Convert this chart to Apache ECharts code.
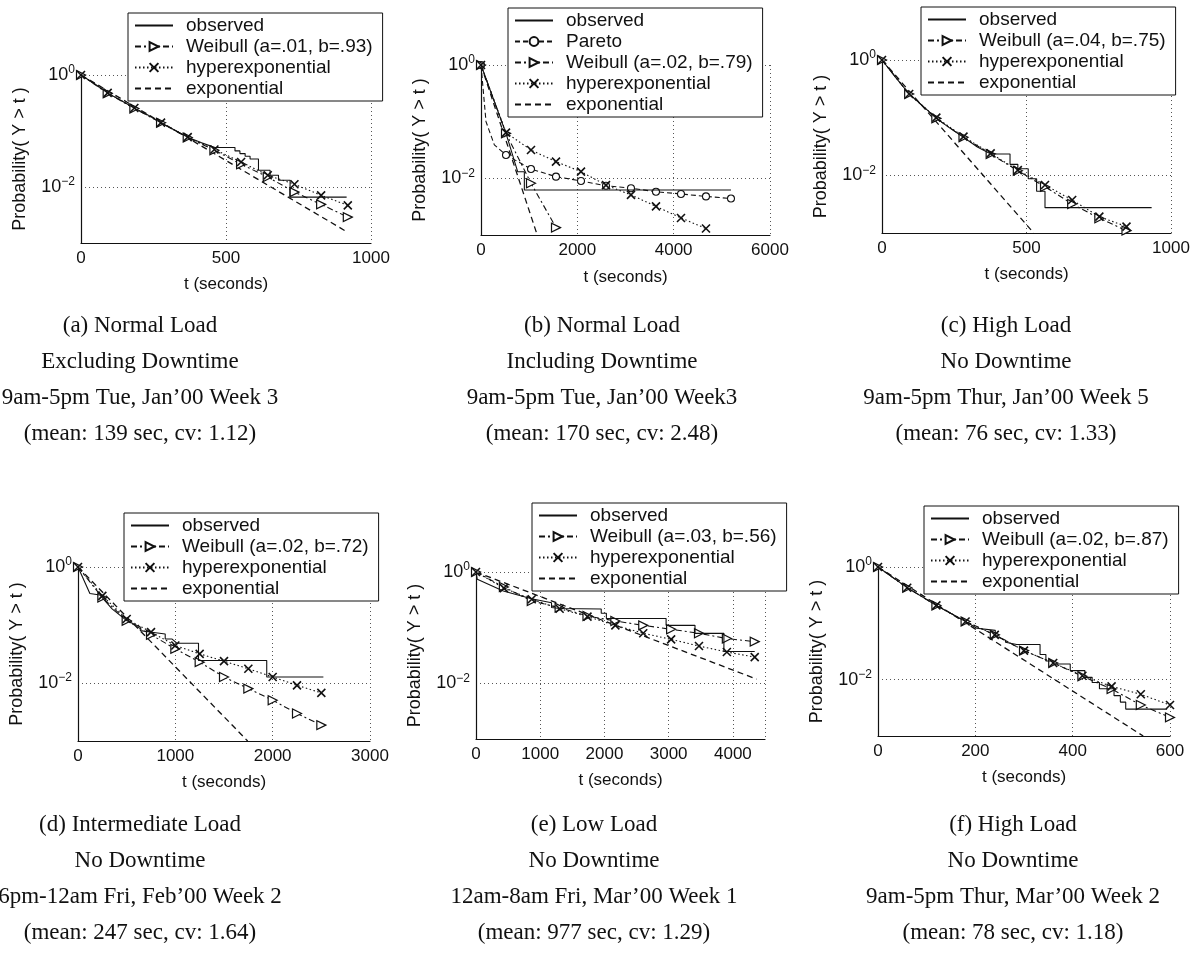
<!DOCTYPE html>
<html><head><meta charset="utf-8">
<script src="https://cdn.jsdelivr.net/npm/echarts@6/dist/echarts.min.js"></script>
<style>html,body{margin:0;padding:0;background:#fff}#c{width:1199px;height:964px}</style>
</head><body><div id="c"></div>
<script>
// ---------- axes / labels ----------
const xMax = [1000, 6000, 1000, 3000, 4500, 600];
const xInterval = [500, 2000, 500, 1000, 1000, 200];
const xTickLabels = [[0,500,1000],[0,2000,4000,6000],[0,500,1000],[0,1000,2000,3000],[0,1000,2000,3000,4000],[0,200,400,600]];
const yMin = 0.001, yMax = 1;
const yTickLabels = [1, 0.01];
const xTitle = 't (seconds)';
const yTitle = 'Probability( Y > t )';
const weibullNames = ['Weibull (a=.01, b=.93)','Weibull (a=.02, b=.79)','Weibull (a=.04, b=.75)','Weibull (a=.02, b=.72)','Weibull (a=.03, b=.56)','Weibull (a=.02, b=.87)'];
const captions = [
  ['(a) Normal Load','Excluding Downtime','9am-5pm Tue, Jan\u201900 Week 3','(mean: 139 sec, cv: 1.12)'],
  ['(b) Normal Load','Including Downtime','9am-5pm Tue, Jan\u201900 Week3','(mean: 170 sec, cv: 2.48)'],
  ['(c) High Load','No Downtime','9am-5pm Thur, Jan\u201900 Week 5','(mean: 76 sec, cv: 1.33)'],
  ['(d) Intermediate Load','No Downtime','6pm-12am Fri, Feb\u201900 Week 2','(mean: 247 sec, cv: 1.64)'],
  ['(e) Low Load','No Downtime','12am-8am Fri, Mar\u201900 Week 1','(mean: 977 sec, cv: 1.29)'],
  ['(f) High Load','No Downtime','9am-5pm Thur, Mar\u201900 Week 2','(mean: 78 sec, cv: 1.18)']
];

// ---------- (a) ----------
const observedA = [[0,1],[48,0.69],[94,0.47],[140,0.347],[186,0.253],[232,0.192],[275,0.14],[324,0.1035],[370,0.0765],[416,0.0614],[462,0.0506],[531,0.0506],[531,0.0441],[548,0.0441],[548,0.0395],[566,0.0395],[566,0.0354],[583,0.0354],[583,0.0317],[612,0.0317],[612,0.0199],[652,0.0199],[652,0.0162],[681,0.0162],[681,0.0132],[721,0.0132],[721,0.0066],[916,0.0066]];
const tMarksA = [0,92,184,276,368,460,552,644,736,828,920];
const weibullA = [1,0.47,0.253,0.14,0.0766,0.0454,0.0255,0.0151,0.0081,0.0049,0.0029];
const hyperA = [1,0.479,0.257,0.141,0.0776,0.0468,0.028,0.0162,0.0112,0.0071,0.0047];
const expA = [[0,1],[920,0.00155]];
// ---------- (b) ----------
const observedB = [[0,1],[519,0.0622],[761,0.0131],[900,0.0131],[900,0.00622],[5190,0.00622]];
const tMarksB = [0,519,1038,1557,2076,2595,3114,3633,4152,4671,5190];
const paretoB = [1,0.0258,0.0146,0.0107,0.009,0.0074,0.0067,0.0058,0.0053,0.0048,0.0044];
const paretoBCurve = [[104,0.1],[277,0.039]];
const weibullB = [1,0.0622,0.0082,0.00135];
const hyperB = [1,0.064,0.0316,0.0197,0.0131,0.0076,0.0051,0.0032,0.002,0.0013];
const expB = [[0,1],[1180,0.00093]];
// ---------- (c) ----------
const observedC = [[0,1],[47,0.5],[94,0.257],[141,0.16],[188,0.0973],[235,0.066],[282,0.0456],[330,0.031],[370,0.0245],[397,0.0234],[443,0.0234],[443,0.0155],[470,0.0155],[470,0.013],[506,0.013],[506,0.0087],[535,0.0087],[535,0.0053],[564,0.0053],[564,0.00275],[933,0.00275]];
const tMarksC = [0,94,188,282,376,470,564,658,752,846];
const weibullC = [1,0.257,0.0973,0.0456,0.0234,0.012,0.00635,0.00318,0.0018,0.0011];
const hyperC = [1,0.257,0.1,0.0468,0.024,0.0123,0.0068,0.00373,0.00192,0.00129];
const expC = [[0,1],[525,0.001]];
// ---------- (d) ----------
const observedD = [[0,1],[122,0.35],[224,0.33],[350,0.19],[503,0.118],[640,0.092],[640,0.08],[759,0.075],[896,0.07],[896,0.0575],[964,0.0575],[1016,0.0485],[1238,0.0485],[1238,0.0245],[1939,0.0245],[1939,0.0127],[2521,0.0127]];
const tMarksD = [0,250,500,750,1000,1250,1500,1750,2000,2250,2500];
const weibullD = [1,0.298,0.1186,0.068,0.0388,0.0229,0.01268,0.008,0.00505,0.00298,0.00188];
const hyperD = [1,0.318,0.1268,0.0755,0.0443,0.0318,0.0238,0.0176,0.01268,0.00912,0.00675];
const expD = [[0,1],[1743,0.001]];
// ---------- (e) ----------
const observedE = [[0,1],[20,0.74],[425,0.456],[865,0.33],[1176,0.281],[1176,0.23],[1305,0.221],[1950,0.216],[1950,0.182],[2030,0.182],[2030,0.146],[2960,0.146],[2960,0.11],[3410,0.11],[3410,0.079],[3860,0.079],[3860,0.0372],[4340,0.0372]];
const tMarksE = [0,434,868,1302,1736,2170,2604,3038,3472,3906,4340];
const weibullE = [1,0.537,0.302,0.229,0.162,0.132,0.11,0.0935,0.0794,0.0637,0.0562];
const hyperE = [1,0.513,0.324,0.219,0.158,0.11,0.0794,0.0617,0.0468,0.0366,0.0295];
const expE = [[0,1],[4370,0.0119]];
// ---------- (f) ----------
const observedF = [[0,1],[60,0.43],[120,0.208],[180,0.108],[203,0.082],[241,0.075],[241,0.06],[262,0.05],[262,0.046],[285,0.042],[333,0.042],[333,0.028],[345,0.028],[345,0.0215],[360,0.0215],[360,0.019],[395,0.019],[395,0.0145],[425,0.0145],[425,0.011],[440,0.011],[440,0.0089],[455,0.0089],[455,0.0069],[485,0.0069],[485,0.0052],[498,0.0052],[498,0.004],[509,0.004],[509,0.003],[594,0.003]];
const tMarksF = [0,60,120,180,240,300,360,420,480,540,600];
const weibullF = [1,0.4285,0.208,0.108,0.0624,0.0328,0.0198,0.01146,0.00682,0.00355,0.00214];
const hyperF = [1,0.4285,0.208,0.108,0.0624,0.0328,0.0198,0.01175,0.00759,0.0055,0.00355];
const expF = [[0,1],[545,0.001]];

// ---------- layout ----------
const grids = [
  {left:81, top:75, width:290, height:168},
  {left:481, top:65, width:289, height:170},
  {left:882, top:60, width:289, height:173},
  {left:78, top:567, width:292, height:174},
  {left:476, top:572, width:289, height:167},
  {left:878, top:567, width:292, height:169}
];
const xNameGap = [33, 34, 33, 33, 33, 33];
const legendPos = [[128,13],[508,8],[921,7],[124,513],[532,503],[924,506]];
const captionX = [140, 602, 1006, 140, 594, 1013];
const captionY = [308, 308, 308, 807, 807, 807];

const INK = '#111';
const NOFILL = 'rgba(0,0,0,0)';
const SANS = '"Liberation Sans", Arial, sans-serif';
const SERIF = '"Liberation Serif", "Times New Roman", serif';
const XSYM = 'path://M0,0L10,10M10,0L0,10';

const zip = (ts, ps) => ts.slice(0, ps.length).map((t, k) => [t, ps[k]]);

const panels = [
  {obs:observedA, t:tMarksA, wb:weibullA, hx:hyperA, ex:expA},
  {obs:observedB, t:tMarksB, wb:weibullB, hx:hyperB, ex:expB, pa:paretoB, paCurve:paretoBCurve},
  {obs:observedC, t:tMarksC, wb:weibullC, hx:hyperC, ex:expC},
  {obs:observedD, t:tMarksD, wb:weibullD, hx:hyperD, ex:expD},
  {obs:observedE, t:tMarksE, wb:weibullE, hx:hyperE, ex:expE},
  {obs:observedF, t:tMarksF, wb:weibullF, hx:hyperF, ex:expF}
];

const option = {animation:false, grid:[], xAxis:[], yAxis:[], legend:[], series:[], graphic:[]};
const axisLine = {show:true, onZero:false, lineStyle:{color:INK, width:1.2}};
const splitLine = {show:true, lineStyle:{color:'#555', width:1, type:[1,3]}};

panels.forEach((P, i) => {
  option.grid.push(Object.assign({containLabel:false}, grids[i]));
  option.xAxis.push({
    type:'value', gridIndex:i, min:0, max:xMax[i], interval:xInterval[i],
    axisLine, axisTick:{show:false}, splitLine,
    axisLabel:{fontSize:17, fontFamily:SANS, color:INK, margin:7, showMaxLabel: xTickLabels[i].includes(xMax[i]),
      formatter: v => xTickLabels[i].includes(v) ? String(v) : ''},
    name:xTitle, nameLocation:'middle', nameGap:xNameGap[i],
    nameTextStyle:{fontSize:17, fontFamily:SANS, color:INK}
  });
  option.yAxis.push({
    type:'log', logBase:100, gridIndex:i, min:yMin, max:yMax,
    axisLine, axisTick:{show:false}, splitLine,
    axisLabel:{margin:6, showMinLabel:false,
      formatter: v => {
        const hit = yTickLabels.find(l => Math.abs(Math.log10(v) - Math.log10(l)) < 1e-6);
        if (hit === undefined) return '';
        const e = Math.round(Math.log10(hit));
        return '{b|10}{e|' + (e < 0 ? '\u2212' + (-e) : e) + '}';
      },
      rich:{b:{fontSize:18, fontFamily:SANS, color:INK, lineHeight:22}, e:{fontSize:12, fontFamily:SANS, color:INK, verticalAlign:'top', lineHeight:22}}},
    name:yTitle, nameLocation:'middle', nameGap:52, nameRotate:90,
    nameTextStyle:{fontSize:18, fontFamily:SANS, color:INK}
  });

  const names = ['observed'];
  option.series.push({type:'line', name:'observed', xAxisIndex:i, yAxisIndex:i, data:P.obs,
    symbol:'circle', symbolSize:0, showSymbol:false, silent:true, z:4,
    lineStyle:{color:INK, width:1.1, type:'solid'}, itemStyle:{color:NOFILL, borderColor:NOFILL, borderWidth:0}});
  if (P.pa) {
    names.push('Pareto');
    const marked = zip(P.t, P.pa).map(v => ({value:v}));
    const curve = P.paCurve.map(v => ({value:v, symbol:'none'}));
    const data = marked.concat(curve).sort((a, b) => a.value[0] - b.value[0]);
    option.series.push({type:'line', name:'Pareto', xAxisIndex:i, yAxisIndex:i, data,
      symbol:'circle', symbolSize:7, silent:true, z:3,
      lineStyle:{color:INK, width:1.1, type:[5,3]}, itemStyle:{color:'#fff', borderColor:INK, borderWidth:1.1}});
  }
  names.push(weibullNames[i]);
  option.series.push({type:'line', name:weibullNames[i], xAxisIndex:i, yAxisIndex:i, data:zip(P.t, P.wb),
    symbol:'triangle', symbolRotate:-90, symbolSize:9, silent:true, z:3,
    lineStyle:{color:INK, width:1.1, type:[6,3,2,3]}, itemStyle:{color:'#fff', borderColor:INK, borderWidth:1.2}});
  names.push('hyperexponential');
  option.series.push({type:'line', name:'hyperexponential', xAxisIndex:i, yAxisIndex:i, data:zip(P.t, P.hx),
    symbol:XSYM, symbolSize:8, silent:true, z:3,
    lineStyle:{color:INK, width:1.1, type:[1.5,2.5]}, itemStyle:{color:INK, borderColor:INK, borderWidth:1.6}});
  names.push('exponential');
  option.series.push({type:'line', name:'exponential', xAxisIndex:i, yAxisIndex:i, data:P.ex,
    symbol:'circle', symbolSize:0, showSymbol:false, silent:true, z:3,
    lineStyle:{color:INK, width:1.3, type:[6,4]}, itemStyle:{color:NOFILL, borderColor:NOFILL, borderWidth:0}});

  option.legend.push({
    left:legendPos[i][0], top:legendPos[i][1], orient:'vertical', data:names, selectedMode:false,
    backgroundColor:'#fff', borderColor:INK, borderWidth:1, padding:[3,10,3,6], itemGap:2,
    itemWidth:38, itemHeight:11, z:10,
    textStyle:{fontSize:19, fontFamily:SANS, color:INK, padding:[0,0,0,8]}
  });

  option.graphic.push({type:'text', x:captionX[i], y:captionY[i], silent:true,
    style:{text:captions[i].join('\n'), textAlign:'center', textVerticalAlign:'top',
      font:'23px ' + SERIF, lineHeight:36, fill:INK}});
});

const chart = echarts.init(document.getElementById('c'), null, {renderer:'canvas'});
chart.setOption(option);
</script></body></html>
